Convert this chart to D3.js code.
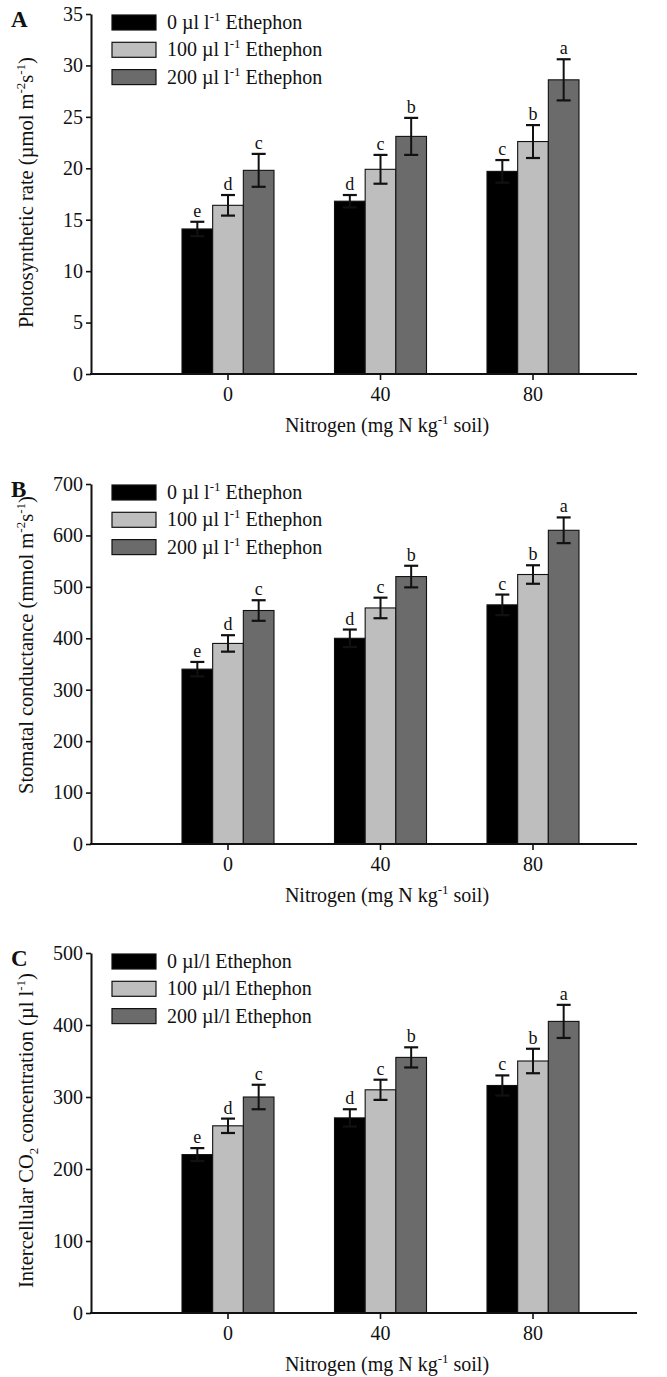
<!DOCTYPE html>
<html>
<head>
<meta charset="utf-8">
<script src="https://cdn.jsdelivr.net/npm/d3@7"></script>
<style>
  body { margin: 0; background: #fff; }
  text { font-family: "Liberation Serif", "Times New Roman", serif; fill: #111; }
</style>
</head>
<body>
<div id="chart"></div>
<script>
const nitrogenLevels = ['0', '40', '80']
const doses = ['0', '100', '200']
const seriesColors = ['#000000', '#bebebe', '#6b6b6b']

// one row per ethephon dose, one value per N level
const photoValues = [[14.1, 16.8, 19.7], [16.4, 19.9, 22.6], [19.8, 23.1, 28.6]]
const photoErrors = [[0.7, 0.6, 1.1], [1.0, 1.4, 1.6], [1.6, 1.8, 2.0]]
const photoTicks = [0, 5, 10, 15, 20, 25, 30, 35]

const stomValues = [[340, 400, 465], [390, 459, 524], [454, 520, 610]]
const stomErrors = [[14, 17, 20], [16, 20, 18], [20, 21, 25]]
const stomTicks = [0, 100, 200, 300, 400, 500, 600, 700]

const ciValues = [[220, 271, 316], [260, 310, 350], [300, 355, 405]]
const ciErrors = [[9, 12, 14], [10, 14, 17], [17, 14, 23]]
const ciTicks = [0, 100, 200, 300, 400, 500]

// same letters in all three panels
const letters = [['e', 'd', 'c'], ['d', 'c', 'b'], ['c', 'b', 'a']]

const width = 667, height = 1377
const axisLeft = 91, axisRight = 637

const svg = d3.select('#chart')
  .append('svg')
  .attr('width', width)
  .attr('height', height)

const x = d3.scalePoint()
  .domain(nitrogenLevels)
  .range([228, 533])

const inner = d3.scaleBand()
  .domain(d3.range(doses.length))
  .range([-46, 46])
  .padding(0)

function drawPanel(opt) {
  const g = svg.append('g')
  const bottom = opt.top + 360
  const y = d3.scaleLinear()
    .domain([0, d3.max(opt.ticks)])
    .range([bottom, opt.top])

  // bars
  opt.values.forEach((row, s) => {
    g.selectAll(null)
      .data(row)
      .enter()
      .append('rect')
      .attr('x', (d, i) => x(nitrogenLevels[i]) + inner(s))
      .attr('width', inner.bandwidth())
      .attr('y', d => y(d))
      .attr('height', d => bottom - y(d))
      .attr('fill', seriesColors[s])
      .attr('stroke', '#111')
      .attr('stroke-width', 1.1)
  })

  // error bars and letters
  opt.values.forEach((row, s) => {
    const cx = i => x(nitrogenLevels[i]) + inner(s) + inner.bandwidth() / 2
    const hi = (d, i) => y(d + opt.errors[s][i])
    const lo = (d, i) => y(d - opt.errors[s][i])
    const eg = g.selectAll(null)
      .data(row)
      .enter()
      .append('g')
      .attr('stroke', '#111')
    eg.append('line')
      .attr('x1', (d, i) => cx(i)).attr('x2', (d, i) => cx(i))
      .attr('y1', lo).attr('y2', hi)
      .attr('stroke-width', 2)
    eg.append('line')
      .attr('x1', (d, i) => cx(i) - 7).attr('x2', (d, i) => cx(i) + 7)
      .attr('y1', hi).attr('y2', hi)
      .attr('stroke-width', 2.2)
    eg.append('line')
      .attr('x1', (d, i) => cx(i) - 7).attr('x2', (d, i) => cx(i) + 7)
      .attr('y1', lo).attr('y2', lo)
      .attr('stroke-width', 2.2)
    g.selectAll(null)
      .data(row)
      .enter()
      .append('text')
      .attr('x', (d, i) => cx(i))
      .attr('y', (d, i) => hi(d, i) - 5)
      .attr('text-anchor', 'middle')
      .attr('font-size', 18)
      .text((d, i) => letters[s][i])
  })

  // y axis
  const yAxis = g.append('g')
    .attr('transform', `translate(${axisLeft},0)`)
    .call(d3.axisLeft(y).tickValues(opt.ticks).tickSize(5).tickSizeOuter(0).tickPadding(3))
  yAxis.select('.domain').attr('stroke', '#111').attr('stroke-width', 2)
  yAxis.selectAll('.tick line').attr('stroke', '#111').attr('stroke-width', 1.6)
  yAxis.selectAll('.tick text')
    .attr('font-family', '"Liberation Serif", serif')
    .attr('font-size', 20)
    .attr('fill', '#111')

  // x axis
  g.append('line')
    .attr('x1', axisLeft - 1).attr('x2', axisRight)
    .attr('y1', bottom).attr('y2', bottom)
    .attr('stroke', '#111').attr('stroke-width', 2)
  const xt = g.selectAll(null)
    .data(nitrogenLevels)
    .enter()
  xt.append('line')
    .attr('x1', d => x(d)).attr('x2', d => x(d))
    .attr('y1', bottom).attr('y2', bottom + 6)
    .attr('stroke', '#111').attr('stroke-width', 1.6)
  xt.append('text')
    .attr('x', d => x(d))
    .attr('y', bottom + 27)
    .attr('text-anchor', 'middle')
    .attr('font-size', 20)
    .text(d => d)

  const xTitle = g.append('text')
    .attr('x', 387)
    .attr('y', bottom + 58)
    .attr('text-anchor', 'middle')
    .attr('font-size', 20)
  xTitle.append('tspan').text('Nitrogen (mg N kg')
  xTitle.append('tspan').attr('font-size', 13).attr('dy', -8).text('-1')
  xTitle.append('tspan').attr('dy', 8).text(' soil)')

  // y title, starting near the bottom of the axis
  const yTitle = g.append('text')
    .attr('transform', `translate(33,${opt.titleStart}) rotate(-90)`)
    .attr('text-anchor', 'start')
    .attr('font-size', 20.5)
  opt.yTitle.forEach(part => {
    const t = yTitle.append('tspan').text(part.t)
    if (part.sup) t.attr('font-size', 13).attr('dy', -8)
    else if (part.sub) t.attr('font-size', 13).attr('dy', 5)
    else if (part.back) t.attr('dy', part.back)
  })

  // panel letter
  g.append('text')
    .attr('x', 11)
    .attr('y', opt.top + 13)
    .attr('font-size', 23)
    .attr('font-weight', 'bold')
    .text(opt.label)

  // legend
  doses.forEach((dose, s) => {
    const ly = opt.top + 1 + s * 27.3
    g.append('rect')
      .attr('x', 112).attr('y', ly)
      .attr('width', 44).attr('height', 15)
      .attr('fill', seriesColors[s])
      .attr('stroke', '#111').attr('stroke-width', 1.2)
    const lt = g.append('text')
      .attr('x', 167).attr('y', ly + 14)
      .attr('font-size', 20)
    if (opt.slashUnits) {
      lt.text(`${dose} µl/l Ethephon`)
    } else {
      lt.append('tspan').text(`${dose} µl l`)
      lt.append('tspan').attr('font-size', 13).attr('dy', -8).text('-1')
      lt.append('tspan').attr('dy', 8).text(' Ethephon')
    }
  })
}

drawPanel({
  label: 'A', top: 14, titleStart: 328,
  ticks: photoTicks, values: photoValues, errors: photoErrors,
  yTitle: [{ t: 'Photosynthetic rate (µmol m' }, { t: '-2', sup: true }, { t: 's', back: 8 },
    { t: '-1', sup: true }, { t: ')', back: 8 }]
})

drawPanel({
  label: 'B', top: 484, titleStart: 794,
  ticks: stomTicks, values: stomValues, errors: stomErrors,
  yTitle: [{ t: 'Stomatal conductance (mmol m' }, { t: '-2', sup: true }, { t: 's', back: 8 },
    { t: '-1', sup: true }, { t: ')', back: 8 }]
})

drawPanel({
  label: 'C', top: 953, titleStart: 1288, slashUnits: true,
  ticks: ciTicks, values: ciValues, errors: ciErrors,
  yTitle: [{ t: 'Intercellular CO' }, { t: '2', sub: true }, { t: ' concentration (µl l', back: -5 },
    { t: '-1', sup: true }, { t: ')', back: 8 }]
})
</script>
</body>
</html>
